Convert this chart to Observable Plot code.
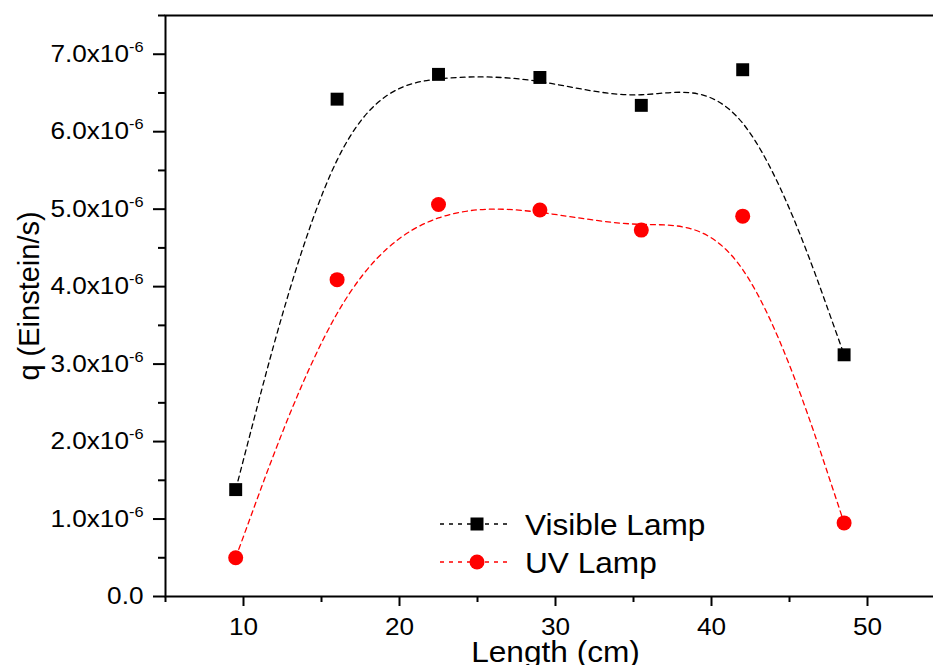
<!DOCTYPE html>
<html>
<head>
<meta charset="utf-8">
<script src="https://cdn.jsdelivr.net/npm/d3@7"></script>
<script src="https://cdn.jsdelivr.net/npm/@observablehq/plot@0.6"></script>
<style>
  html, body { margin: 0; padding: 0; background: #fff; overflow: hidden; }
  #wrap { position: relative; width: 960px; height: 665px; }
  #legend { position: absolute; left: 0; top: 0; pointer-events: none; }
</style>
</head>
<body>
<div id="wrap"></div>
<script>
// ---- data ----
const lengths = [9.5, 16, 22.5, 29, 35.5, 42, 48.5];
const visibleLamp = [1.38e-6, 6.42e-6, 6.74e-6, 6.70e-6, 6.34e-6, 6.80e-6, 3.12e-6];
const uvLamp = [0.50e-6, 4.09e-6, 5.06e-6, 4.99e-6, 4.73e-6, 4.91e-6, 0.95e-6];
const seriesNames = ["Visible Lamp", "UV Lamp"];
const seriesColors = ["#000000", "#ff0000"];
const xMajorTicks = [10, 20, 30, 40, 50];
const xMinorTicks = [5, 15, 25, 35, 45, 55];
const yMajorTicks = [0, 1e-6, 2e-6, 3e-6, 4e-6, 5e-6, 6e-6, 7e-6];
const yTickMantissas = ["0.0", "1.0x10", "2.0x10", "3.0x10", "4.0x10", "5.0x10", "6.0x10", "7.0x10"];
const yTickExponent = "-6";
const yMinorTicks = [0.5e-6, 1.5e-6, 2.5e-6, 3.5e-6, 4.5e-6, 5.5e-6, 6.5e-6, 7.5e-6];
const xTitle = "Length (cm)";
const yTitle = "q (Einstein/s)";

const visibleData = lengths.map((x, i) => ({x, y: visibleLamp[i]}));
const uvData = lengths.map((x, i) => ({x, y: uvLamp[i]}));

const fontFamily = "'Liberation Sans', Arial, Helvetica, sans-serif";
const dash = "5,4";

const plot = Plot.plot({
  width: 960,
  height: 665,
  marginLeft: 165,
  marginRight: 15,
  marginTop: 15,
  marginBottom: 69,
  style: { fontFamily, background: "white", color: "black", overflow: "visible" },
  x: { domain: [5, 55] },
  y: { domain: [0, 7.5e-6] },
  marks: [
    Plot.axisX({ ticks: xMinorTicks, tickSize: 6, strokeWidth: 2, tickFormat: () => "", label: null }),
    Plot.axisX({ ticks: xMajorTicks, tickSize: 10, tickPadding: 11, strokeWidth: 2, fontSize: 24, label: null }),
    Plot.axisY({ ticks: yMinorTicks, tickSize: 7, strokeWidth: 2, tickFormat: () => "", label: null }),
    Plot.axisY({ ticks: yMajorTicks, tickSize: 12, tickPadding: 10, strokeWidth: 2, fontSize: 24, label: null,
      tickFormat: d => yTickMantissas[Math.round(d * 1e6)] }),
    Plot.frame({ stroke: "black", strokeWidth: 2 }),
    Plot.line(visibleData, { x: "x", y: "y", curve: "basis", stroke: seriesColors[0], strokeWidth: 1.3, strokeDasharray: dash }),
    Plot.line(uvData, { x: "x", y: "y", curve: "basis", stroke: seriesColors[1], strokeWidth: 1.3, strokeDasharray: dash }),
    Plot.dot(visibleData, { x: "x", y: "y", symbol: "square", r: 7.3, fill: seriesColors[0], stroke: "none" }),
    Plot.dot(uvData, { x: "x", y: "y", symbol: "circle", r: 7.5, fill: seriesColors[1], stroke: "none" }),
    Plot.text([xTitle], { frameAnchor: "bottom", lineAnchor: "bottom", dy: 65, fontSize: 29, text: d => d }),
    Plot.text([yTitle], { frameAnchor: "left", textAnchor: "middle", rotate: -90, dx: -136, dy: -10, fontSize: 29, text: d => d })
  ]
});
plot.style.maxWidth = "none";
const wrap = document.getElementById("wrap");
wrap.appendChild(plot);

// superscript exponents on y tick labels
d3.select(plot).selectAll('g[aria-label="y-axis tick label"] text').each(function() {
  const t = d3.select(this);
  if (t.text() !== "0.0" && t.text() !== "") {
    t.append("tspan").attr("dy", -10).attr("font-size", 15).text(yTickExponent);
  }
});

// legend overlay
const legend = d3.select(wrap).append("svg")
  .attr("id", "legend").attr("width", 960).attr("height", 665)
  .style("font-family", fontFamily);
const legendItems = [
  { name: seriesNames[0], color: seriesColors[0], symbol: "square", cy: 524 },
  { name: seriesNames[1], color: seriesColors[1], symbol: "circle", cy: 562 }
];
for (const it of legendItems) {
  legend.append("line").attr("x1", 440).attr("x2", 510).attr("y1", it.cy).attr("y2", it.cy)
    .attr("stroke", it.color).attr("stroke-width", 1.3).attr("stroke-dasharray", "4,5");
  if (it.symbol === "square") {
    legend.append("rect").attr("x", 477 - 6.5).attr("y", it.cy - 6.5).attr("width", 13).attr("height", 13).attr("fill", it.color);
  } else {
    legend.append("circle").attr("cx", 477).attr("cy", it.cy).attr("r", 7.5).attr("fill", it.color);
  }
  legend.append("text").attr("x", 525).attr("y", it.cy + 10.5).attr("font-size", 29).attr("fill", "black").text(it.name);
}

// horizontal stretch of text to match reference proportions
function stretch(sel) {
  sel.each(function() {
    const len = this.getComputedTextLength();
    if (len > 0) {
      this.setAttribute("textLength", (len * 1.09).toFixed(1));
      this.setAttribute("lengthAdjust", "spacingAndGlyphs");
    }
  });
}
stretch(d3.select(plot).selectAll("text").filter(function() {
  const tr = (this.getAttribute("transform") || "") + (this.parentNode.getAttribute("transform") || "");
  return !tr.includes("rotate") && this.textContent !== yTitle;
}));
stretch(legend.selectAll("text"));
</script>
</body>
</html>
